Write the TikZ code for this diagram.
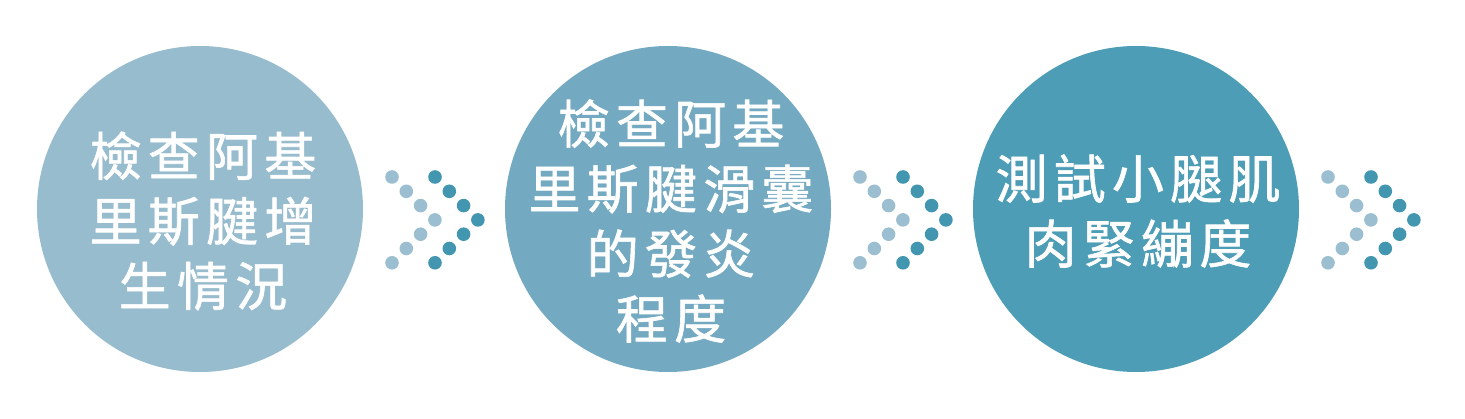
\documentclass[tikz,border=0pt]{standalone}
\usepackage{fontspec}
\newfontfamily\cjk{Noto Sans CJK TC}[LetterSpace=12, FakeBold=1.2]
\definecolor{bluea}{HTML}{97BCCE}
\definecolor{blueb}{HTML}{74AAC1}
\definecolor{bluec}{HTML}{4D9DB6}
\definecolor{dotlight}{HTML}{9BBFD0}
\definecolor{dotdark}{HTML}{4296AF}
\tikzset{
    bubble/.style={circle, minimum size=326pt, inner sep=0pt},
    words/.style={text=white, align=center, inner sep=0pt, font=\cjk\fontsize{52}{65}\selectfont}
}
\begin{document}
\begin{tikzpicture}[x=1pt, y=-1pt]
\useasboundingbox (0,0) rectangle (1465,419);
\node[bubble, fill=bluea](c1) at (200,209){};
\node[bubble, fill=blueb](c2) at (668,209){};
\node[bubble, fill=bluec](c3) at (1136,209){};
\node[words](t1) at (203,221){檢查阿基\\里斯腱增\\生情況};
\node[words](t2) at (671,221){檢查阿基\\里斯腱滑囊\\的發炎\\程度};
\node[words](t3) at (1138,211){測試小腿肌\\肉緊繃度};
\foreach \k in {0,1,2}
{
    \foreach \i in {0,...,6}
    {
        \pgfmathsetmacro{\dx}{14.3*(3-abs(\i-3))}
        \fill[dotlight](392+468*\k+\dx, 177+14.3*\i) circle (6.8);
        \fill[dotdark](435+468*\k+\dx, 177+14.3*\i) circle (6.8);
    }
}
\end{tikzpicture}
\end{document}
